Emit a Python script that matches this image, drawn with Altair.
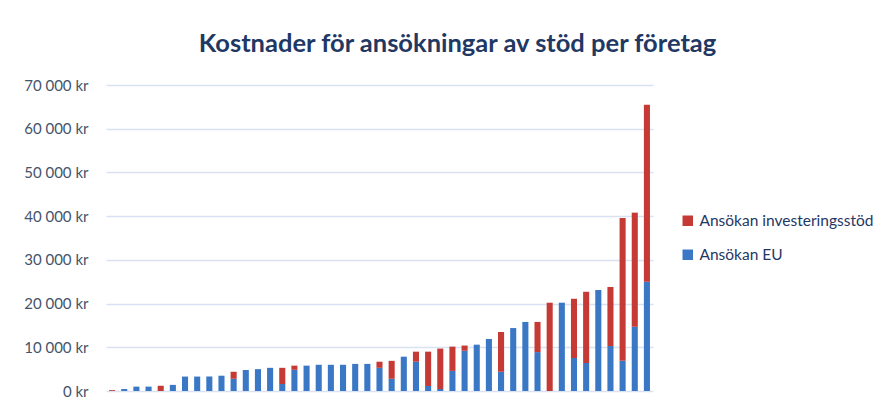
import altair as alt
import pandas as pd

companies = list(range(1, 46))
eu = [0, 450, 1000, 1000, 0, 1400, 3300, 3300, 3300, 3500,
      2800, 4800, 5000, 5300, 1600, 4850, 5800, 6000, 6000, 6000,
      6200, 6200, 5300, 2800, 7850, 6700, 1150, 460, 4600, 9200,
      10600, 11900, 4400, 14400, 15800, 8900, 0, 20200, 7550, 6400,
      23100, 10300, 6900, 14700, 25000]
invest = [200, 0, 0, 0, 1200, 0, 0, 0, 0, 0,
          1600, 0, 0, 0, 3700, 950, 0, 0, 0, 0,
          0, 0, 1400, 4100, 0, 2300, 7850, 9240, 5550, 1200,
          0, 0, 9100, 0, 0, 6900, 20200, 0, 13550, 16300,
          0, 13500, 32700, 26100, 40500]
series = ["Ansökan investeringsstöd", "Ansökan EU"]
colors = ["#C63A36", "#3A78C6"]
yticks = [0, 10000, 20000, 30000, 40000, 50000, 60000, 70000]

rows = []
for c, e, i in zip(companies, eu, invest):
    rows.append({"company": c, "serie": series[1], "value": e, "ord": 0})
    rows.append({"company": c, "serie": series[0], "value": i, "ord": 1})
df = pd.DataFrame(rows)

label_expr = "replace(format(datum.value, ',d'), ',', ' ') + ' kr'"

chart = alt.Chart(df).mark_bar().encode(
    x=alt.X("company:O", axis=None, scale=alt.Scale(paddingInner=0.5, paddingOuter=0.25)),
    y=alt.Y("value:Q", stack="zero",
            scale=alt.Scale(domain=[0, 70000], nice=False),
            axis=alt.Axis(values=yticks, labelExpr=label_expr, title=None,
                          domain=False, ticks=False, labelPadding=18,
                          labelFont="Lato", labelFontSize=15, labelColor="#44546A",
                          gridColor="#D9E2F3", gridWidth=1.5)),
    color=alt.Color("serie:N", scale=alt.Scale(domain=series, range=colors),
                    legend=alt.Legend(title=None, orient="none", legendX=574, legendY=128,
                                      symbolType="square", symbolSize=110,
                                      labelFont="Lato", labelFontSize=15.5, labelColor="#1F3864",
                                      labelLimit=0, rowPadding=17, symbolStrokeWidth=0)),
    order=alt.Order("ord:Q"),
).properties(
    width=547, height=306,
    autosize=alt.AutoSizeParams(type="none"),
    padding={"left": 98, "top": 77, "right": 226, "bottom": 12},
    title=alt.TitleParams("Kostnader för ansökningar av stöd per företag",
                          font="Lato", fontSize=25.5, fontWeight="bold", color="#1F3864",
                          anchor="middle", dx=78, offset=21),
).configure_view(stroke=None)

chart.save("out.html", embed_options={"renderer": "svg", "actions": False})
